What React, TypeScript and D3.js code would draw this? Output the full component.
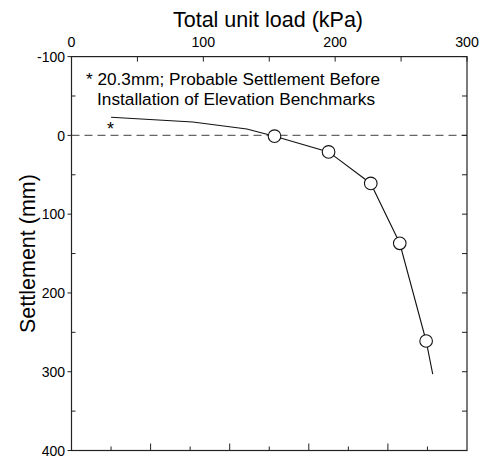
import React from "react";
import * as d3 from "d3";

const loads = [30, 92, 133, 154, 195, 227, 249, 269, 274];
const settlements = [-23, -17, -8, 1, 21, 61, 137, 261, 303];
const markerLoads = [154, 195, 227, 249, 269];
const markerSettlements = [1, 21, 61, 137, 261];
const topTicks = [0, 50, 100, 150, 200, 250, 300];
const topLabels = [0, 100, 200, 300];
const leftTicks = [-100, -50, 0, 50, 100, 150, 200, 250, 300, 350, 400];
const leftLabels = [-100, 0, 100, 200, 300, 400];
const bottomTicks = [30, 60, 90, 120, 150, 180, 210, 240, 270];
const noteLines = ["* 20.3mm; Probable Settlement Before", "Installation of Elevation Benchmarks"];

const W = 480, H = 459;
const L = 71.5, R = 467, T = 56.6, B = 450.5;
const FONT = "'Liberation Sans', Arial, sans-serif";

export default function App() {
  const x = d3.scaleLinear().domain([0, 300]).range([L, R]);
  const y = d3.scaleLinear().domain([-100, 400]).range([T, B]);
  const line = d3.line<number>().x((d, i) => x(loads[i])).y((d, i) => y(settlements[i]));
  return (
    <svg width={W} height={H} style={{ position: "absolute", left: 0, top: 0, background: "#fff" }} fontFamily={FONT}>
      <rect x={0} y={0} width={W} height={H} fill="#fff" />
      <text x={268} y={27} fontSize={21.5} textAnchor="middle">Total unit load (kPa)</text>
      <text transform={`translate(35,${(T + B) / 2}) rotate(-90)`} fontSize={21.5} textAnchor="middle">Settlement (mm)</text>
      {topLabels.map(v => (
        <text key={"tl" + v} x={x(v)} y={47.3} fontSize={14.2} textAnchor="middle">{v}</text>
      ))}
      {leftLabels.map(v => (
        <text key={"ll" + v} x={65} y={y(v) + 5.3} fontSize={14} textAnchor="end">{v}</text>
      ))}
      <line x1={L} x2={R} y1={y(0)} y2={y(0)} stroke="#666" strokeWidth={1.2} strokeDasharray="8,5" />
      <rect x={L} y={T} width={R - L} height={B - T} fill="none" stroke="#222" strokeWidth={1.2} />
      {topTicks.map(v => (
        <line key={"tt" + v} x1={x(v)} x2={x(v)} y1={T} y2={T + 5} stroke="#222" />
      ))}
      {bottomTicks.map(v => (
        <line key={"bt" + v} x1={x(v)} x2={x(v)} y1={B} y2={B - (v % 60 === 0 ? 7 : 4)} stroke="#222" />
      ))}
      {leftTicks.map(v => (
        v % 100 === 0
          ? <line key={"lt" + v} x1={L - 4} x2={L} y1={y(v)} y2={y(v)} stroke="#222" />
          : <line key={"lt" + v} x1={L} x2={L + 4} y1={y(v)} y2={y(v)} stroke="#222" />
      ))}
      {leftTicks.map(v => (
        <line key={"rt" + v} x1={R - 5} x2={R} y1={y(v)} y2={y(v)} stroke="#222" />
      ))}
      <path d={line(settlements) || ""} fill="none" stroke="#111" strokeWidth={1.1} />
      {markerLoads.map((v, i) => (
        <circle key={"m" + i} cx={x(v)} cy={y(markerSettlements[i])} r={6.3} fill="#fff" stroke="#111" strokeWidth={1.1} />
      ))}
      <text x={x(30) - 4} y={y(-23) + 18} fontSize={18}>*</text>
      <text x={86} y={85} fontSize={17.1} textLength={294} lengthAdjust="spacingAndGlyphs">{noteLines[0]}</text>
      <text x={97} y={105} fontSize={17.1} textLength={278} lengthAdjust="spacingAndGlyphs">{noteLines[1]}</text>
    </svg>
  );
}
